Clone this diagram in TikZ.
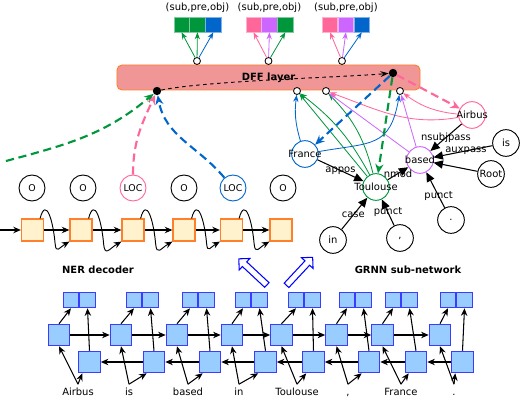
\documentclass[tikz,border=0pt]{standalone}
\usepackage{fontspec}
\setmainfont{DejaVu Sans}
\usepackage{tikz}
\usetikzlibrary{arrows.meta,positioning,calc,shapes.arrows}
\usepackage{xcolor}
\definecolor{grncol}{RGB}{0,150,60}
\definecolor{blucol}{RGB}{0,102,204}
\definecolor{pnkcol}{RGB}{255,102,153}
\definecolor{prpcol}{RGB}{204,102,255}
\definecolor{cellcol}{RGB}{60,60,255}
\definecolor{cellfill}{RGB}{153,204,255}
\definecolor{deccol}{RGB}{255,128,42}
\definecolor{decfill}{RGB}{255,242,204}
\definecolor{dffcol}{RGB}{240,150,150}
\tikzset{
  % BiLSTM cell
  cell/.style={rectangle, draw=cellcol, fill=cellfill, line width=1pt, minimum size=0.64cm, inner sep=0pt},
  % half of a concatenated output
  halfsq/.style={rectangle, draw=cellcol, fill=cellfill, line width=1pt, minimum size=0.46cm, inner sep=0pt},
  % decoder step
  decbox/.style={rectangle, draw=deccol, fill=decfill, line width=1pt, minimum size=0.66cm, inner sep=0pt},
  % predicted tag
  tagnode/.style={circle, draw=#1, line width=0.8pt, minimum size=0.78cm, inner sep=0pt, font=\fontsize{8}{9}\selectfont},
  tagnode/.default={black},
  % dependency word
  depnode/.style={circle, draw=#1, line width=0.8pt, minimum size=0.8cm, inner sep=0pt},
  depnode/.default={black},
  % relation output square
  outsq/.style={rectangle, fill=#1, draw=#1!50!white, line width=0.5pt, minimum width=0.46cm, minimum height=0.45cm, inner sep=0pt},
  % white / black junction dots
  wdot/.style={circle, draw=black, fill=white, line width=0.7pt, minimum size=0.21cm, inner sep=0pt},
  bdot/.style={circle, fill=black, minimum size=0.25cm, inner sep=0pt},
  % DFF layer box
  dffbox/.style={rectangle, rounded corners=0.15cm, draw=deccol, fill=dffcol, line width=0.8pt,
                 minimum width=9.09cm, minimum height=0.75cm, font=\fontsize{8.5}{10}\selectfont\bfseries},
  % section title
  titletext/.style={font=\fontsize{8.5}{10}\selectfont\bfseries},
  % sentence word
  wordtext/.style={text height=1.6ex, text depth=0.4ex, inner sep=1pt},
  % plain black arrow
  arr/.style={-{Stealth[length=6.5pt,width=5.5pt]}, line width=0.9pt},
  % dependency arc
  dep/.style={-{Triangle[length=8pt,width=7pt]}, line width=0.9pt},
  deplab/.style={inner sep=0pt},
  % thin coloured feed into the DFF layer
  feed/.style={-{Stealth[length=6pt,width=4.5pt]}, draw=#1, line width=0.7pt},
  % thick dashed flow
  flow/.style={-{Stealth[length=8pt,width=7pt]}, draw=#1, line width=1.8pt, dash pattern=on 7pt off 4pt},
  % thin dashed link
  link/.style={-{Stealth[length=7pt,width=5pt]}, dashed, line width=0.8pt},
  % hollow block arrow
  bigarrow/.style={single arrow, draw=blue, fill=white, line width=0.9pt, minimum height=1.15cm,
                   inner sep=0.08cm, single arrow head extend=0.14cm},
}
\newcommand{\nowidth}[1]{\makebox[0pt]{#1}}

\begin{document}
\begin{tikzpicture}[x=0.03cm, y=0.03cm, font=\fontsize{8.5}{10}\selectfont]
  \useasboundingbox (0,0) rectangle (520,-400);

  % ── relation outputs ──
  \node[outsq=grncol] (o11) at (181.5,-24.5) {};
  \node[outsq=grncol, right=0pt of o11] (o12) {};
  \node[outsq=blucol, right=0pt of o12] (o13) {};
  \node[outsq=pnkcol] (o21) at (253.5,-24.5) {};
  \node[outsq=prpcol, right=0pt of o21] (o22) {};
  \node[outsq=grncol, right=0pt of o22] (o23) {};
  \node[outsq=pnkcol] (o31) at (330,-24.5) {};
  \node[outsq=prpcol, right=0pt of o31] (o32) {};
  \node[outsq=blucol, right=0pt of o32] (o33) {};
  \node[above=0pt of o12] (spo1) {(sub,pre,obj)};
  \node[above=0pt of o22] (spo2) {(sub,pre,obj)};
  \node[above=0pt of o32] (spo3) {(sub,pre,obj)};

  % ── DFF layer ──
  \node[dffbox] (dff) at (268.5,-77.5) {DFF layer};
  \node[wdot] (up1) at (197,-61) {};
  \node[wdot] (up2) at (268.5,-61) {};
  \node[wdot] (up3) at (342,-61) {};
  \node[wdot] (lo1) at (297,-91) {};
  \node[wdot] (lo2) at (326,-91) {};
  \node[wdot] (lo3) at (400,-91) {};
  \node[bdot] (hub1) at (157,-91) {};
  \node[bdot] (hub2) at (393,-73) {};

  \draw[feed=grncol] (up1) -- (o11.south);
  \draw[feed=grncol] (up1) -- (o12.south);
  \draw[feed=blucol] (up1) -- (o13.south);
  \draw[feed=pnkcol] (up2) -- (o21.south);
  \draw[feed=prpcol] (up2) -- (o22.south);
  \draw[feed=grncol] (up2) -- (o23.south);
  \draw[feed=pnkcol] (up3) -- (o31.south);
  \draw[feed=prpcol] (up3) -- (o32.south);
  \draw[feed=blucol] (up3) -- (o33.south);

  % ── dependency graph ──
  \node[depnode=pnkcol] (air) at (472,-115) {\nowidth{Airbus}};
  \node[depnode=blucol] (fra) at (305,-154) {\nowidth{France}};
  \node[depnode=grncol] (tou) at (376,-187) {\nowidth{Toulouse}};
  \node[depnode=prpcol] (bas) at (420,-160) {\nowidth{based}};
  \node[depnode] (gis) at (506,-143) {is};
  \node[depnode] (root) at (491,-174) {\nowidth{Root}};
  \node[depnode] (per) at (451,-220) {.};
  \node[depnode] (gin) at (333,-240) {in};
  \node[depnode] (com) at (400,-238) {,};

  \draw[dep] (air) -- node[deplab]{nsubjpass} (bas);
  \draw[dep] (gis) -- node[deplab, pos=0.45]{auxpass} (bas);
  \draw[dep] (root) -- (bas);
  \draw[dep] (per) -- node[deplab, pos=0.33]{punct} (bas);
  \draw[dep] (fra) -- node[deplab]{appos} (tou);
  \draw[dep] (tou) -- node[deplab]{nmod} (bas);
  \draw[dep] (gin) -- node[deplab, pos=0.45]{case} (tou);
  \draw[dep] (com) -- node[deplab]{punct} (tou);

  % feeds into the DFF layer
  \draw[feed=blucol] (fra) to[bend left=12] (lo1);
  \draw[feed=grncol] (tou) -- (lo1);
  \draw[feed=grncol] (tou) to[bend right=12] (lo1);
  \draw[feed=grncol] (tou) to[bend right=15] (lo2);
  \draw[feed=prpcol] (bas) -- (lo2);
  \draw[feed=pnkcol] (air) to[out=190,in=-20] (lo2);
  \draw[feed=pnkcol] (air) to[bend left=15] (lo3);
  \draw[feed=prpcol] (bas) -- (lo3);
  \draw[feed=blucol] (fra) to[out=10,in=-100,looseness=1.4] (lo3);

  % ── NER decoder ──
  \node[tagnode] (tag1) at (32,-188) {O};
  \node[tagnode] (tag2) at (83,-188) {O};
  \node[tagnode=pnkcol] (tag3) at (133,-188) {LOC};
  \node[tagnode] (tag4) at (184,-188) {O};
  \node[tagnode=blucol] (tag5) at (233,-188) {LOC};
  \node[tagnode] (tag6) at (283,-188) {O};

  \node[decbox] (dec1) at (32.5,-230) {};
  \node[decbox] (dec2) at (81,-230) {};
  \node[decbox] (dec3) at (133,-230) {};
  \node[decbox] (dec4) at (184,-230) {};
  \node[decbox] (dec5) at (231.5,-230) {};
  \node[decbox] (dec6) at (281,-230) {};
  \coordinate (decin) at (0,-230);
  \draw[arr] (decin) -- (dec1);
  \foreach \i [count=\j from 2] in {1,...,5}{
    \draw[arr] (dec\i) -- (dec\j);
    \draw[arr, line width=0.8pt] ([xshift=-0.12cm]dec\i.north east) to[out=75,in=95,looseness=2] ++(15,-25)
      to[out=-85,in=210,looseness=2] (dec\j.south west);
  }

  % dashed flows
  \coordinate (lstart) at (6,-161);
  \draw[flow=grncol] (lstart) to[out=15,in=220] (hub1);
  \draw[flow=pnkcol] (tag3) to[out=90,in=245] (hub1);
  \draw[flow=blucol] (tag5) to[out=130,in=-80] (hub1);
  \draw[link] (hub1) to[out=12,in=185,looseness=0.5] (hub2);
  \draw[flow=blucol] (hub2) -- (fra);
  \draw[flow=grncol] (hub2) -- (tou);
  \draw[flow=pnkcol] (hub2) -- (air);

  % ── shared BiLSTM ──
  \node[titletext] (nerlab) at (98,-270) {NER decoder};
  \node[titletext] (grnnlab) at (408,-270) {GRNN sub-network};
  \node[bigarrow, rotate=137] (toner) at (254,-273) {};
  \node[bigarrow, rotate=47] (togrnn) at (298.5,-272.5) {};

  \foreach \i/\fpos/\bpos/\ppos/\wpos/\wtext in {1/59/89.5/71/78/Airbus, 2/121/154/134/129/is,
      3/177/210/190/188/based, 4/232/265.5/243/239/in, 5/281.5/313.5/296/297/Toulouse,
      6/336.5/369/347/348/{,}, 7/382.5/416/393/401/France, 8/440/462.5/448/454/.}{
    \node[cell] (fw\i) at (\fpos,-335) {};
    \node[cell] (bw\i) at (\bpos,-362) {};
    \node[halfsq] (pl\i) at (\ppos,-300) {};
    \node[halfsq, right=0pt of pl\i] (pr\i) {};
    \node[wordtext] (wd\i) at (\wpos,-392) {\wtext};
    \draw[arr] (wd\i.north) -- (fw\i.south);
    \draw[arr] (wd\i.north) -- ($(bw\i.south west)+(4,0)$);
    \draw[arr] (fw\i.north) -- (pl\i.south);
    \draw[arr] (bw\i.north) -- (pr\i.south);
  }
  \foreach \i [count=\j from 2] in {1,...,7}{
    \draw[arr] (fw\i) -- (fw\j);
    \draw[arr] (bw\j) -- (bw\i);
  }

\end{tikzpicture}
\end{document}
